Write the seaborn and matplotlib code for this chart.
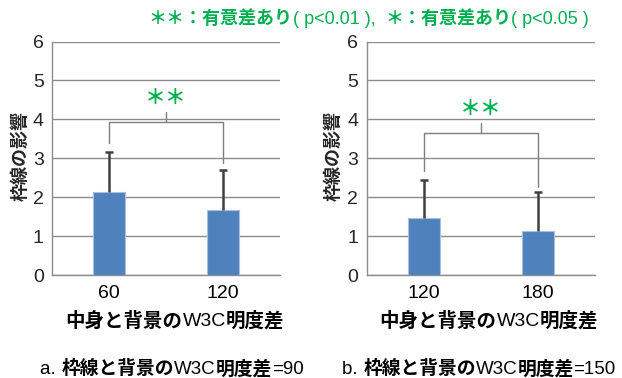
import matplotlib
matplotlib.use("Agg")
import matplotlib.pyplot as plt
import seaborn as sns
import pandas as pd

# Mean rating of the border's effect, with standard deviation, per inner/background contrast
contrast_a = ["60", "120"]
influence_a = [2.14, 1.68]
sd_a = [1.01, 1.01]

contrast_b = ["120", "180"]
influence_b = [1.46, 1.12]
sd_b = [0.98, 1.01]

# significance bracket: [left leg bottom, right leg bottom, bar level, top of centre tick]
bracket_a = [3.40, 2.87, 3.93, 4.18]
bracket_b = [2.67, 2.27, 3.64, 3.90]
star_label = "＊＊"

yticks = [0, 1, 2, 3, 4, 5, 6]
ylabel = "枠線の影響"
xlabel_parts = [("中身と背景の", "bold"), ("W3C", "normal"), ("明度差", "bold")]
caption_a = [("a. ", "normal"), ("枠線と背景の", "bold"), ("W3C", "normal"),
             ("明度差", "bold"), ("=90", "normal")]
caption_b = [("b. ", "normal"), ("枠線と背景の", "bold"), ("W3C", "normal"),
             ("明度差", "bold"), ("=150", "normal")]
legend_parts = [("＊＊：有意差あり", "bold"), ("( p<0.01 ),  ", "normal"),
                ("＊：有意差あり", "bold"), ("( p<0.05 )", "normal")]

sns.set_theme(style="white")
plt.rcParams["font.family"] = ["Liberation Sans", "Noto Sans CJK JP"]

BAR = "#4F81BD"
GRID = "#8C8C8C"
ERR = "#404040"
GREEN = "#00B050"

W, H = 622, 378
fig = plt.figure(figsize=(W / 100, H / 100), dpi=100)
renderer = fig.canvas.get_renderer()


def rich_text(x_px, y_px, parts, size, color="black"):
    """Place differently weighted pieces of text side by side, centred at x_px."""
    texts = []
    for s, w in parts:
        t = fig.text(0, 1 - y_px / H, s, fontsize=size, fontweight=w, color=color,
                     ha="left", va="center", transform=fig.transFigure)
        texts.append(t)
    widths = [t.get_window_extent(renderer).width for t in texts]
    x = x_px - sum(widths) / 2
    for t, wd in zip(texts, widths):
        t.set_x(x / W)
        x += wd


def panel(left_px, values, errs, cats, bracket):
    ax = fig.add_axes([left_px / W, (H - 275) / H, 228 / W, 233.5 / H])
    df = pd.DataFrame({"contrast": cats, "influence": values})
    sns.barplot(data=df, x="contrast", y="influence", color=BAR, width=0.28,
                saturation=1, edgecolor="#A9C0DE", linewidth=0.8, ax=ax, zorder=3)
    _, caps, _ = ax.errorbar(range(len(values)), values, yerr=[[0] * len(errs), errs],
                             fmt="none", ecolor=ERR, elinewidth=1.8, capsize=3,
                             capthick=1.8, zorder=4)
    caps[0].set_visible(False)  # no cap on the zero-length lower side
    ax.set_ylim(0, 6)
    ax.set_xlim(-0.5, 1.5)
    ax.set_yticks(yticks)
    ax.yaxis.grid(True, color=GRID, linewidth=1)
    ax.set_axisbelow(True)
    for s in ["top", "right"]:
        ax.spines[s].set_visible(False)
    for s in ["left", "bottom"]:
        ax.spines[s].set_color(GRID)
        ax.spines[s].set_linewidth(1)
    ax.set_xticks([-0.5, 0.5, 1.5], minor=True)
    ax.tick_params(axis="x", which="major", length=0, pad=7, labelsize=14, colors="black")
    ax.tick_params(axis="x", which="minor", length=5, width=1, color=GRID, direction="out")
    ax.tick_params(axis="y", length=4, width=1, color=GRID, direction="out",
                   labelsize=14, pad=2)
    ax.set_xlabel("")
    ax.set_ylabel("")
    # significance bracket
    l_bot, r_bot, level, tip = bracket
    lc = "#7F7F7F"
    ax.plot([0, 0, 1, 1], [l_bot, level, level, r_bot], color=lc, lw=1, zorder=5)
    ax.plot([0.5, 0.5], [level, tip], color=lc, lw=1, zorder=5)
    ax.text(0.5, tip + 0.1, star_label, color=GREEN, fontsize=15, ha="center",
            va="bottom", fontweight="bold")
    return ax


panel(52, influence_a, sd_a, contrast_a, bracket_a)
panel(366.7, influence_b, sd_b, contrast_b, bracket_b)

for x_px in (21, 334):
    fig.text(x_px / W, 1 - 156 / H, ylabel, rotation=90, fontsize=13, fontweight="bold",
             ha="center", va="center")

rich_text(175, 321, xlabel_parts, 14)
rich_text(489, 321, xlabel_parts, 14)
rich_text(172, 369, caption_a, 13.5)
rich_text(479, 369, caption_b, 13.5)
rich_text(369, 19, legend_parts, 13, color=GREEN)

fig.savefig("out.png", dpi=100)
